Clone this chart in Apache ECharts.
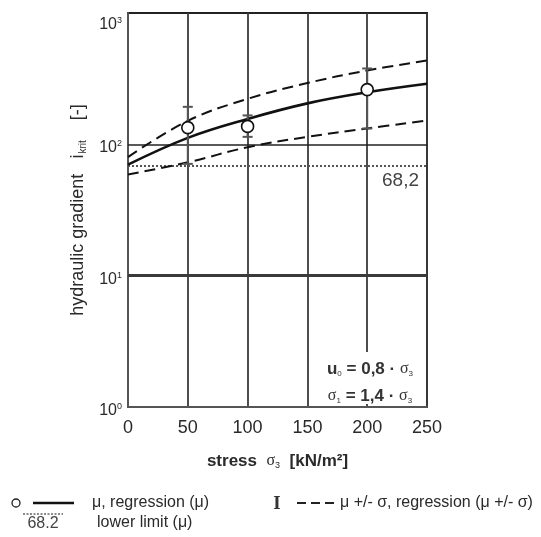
<!DOCTYPE html>
<html>
<head>
<meta charset="utf-8">
<script src="https://cdn.jsdelivr.net/npm/echarts@6/dist/echarts.min.js"></script>
<style>
html,body{margin:0;padding:0;background:#fff;}
#chart{width:541px;height:537px;}
</style>
</head>
<body>
<div id="chart"></div>
<script>
// ---- data ----
const stress = [50, 100, 200];
const meanI = [134, 137, 261];
const upperI = [193, 166, 378];
const lowerI = [71, 114, 132];

const regX = [0, 50, 100, 150, 200, 250];
const regMu = [70, 112, 156, 205, 249, 289];
const regUpper = [80, 151, 222, 293, 365, 435];
const regLower = [59, 73, 95, 114, 132, 152];

const lowerLimit = 68.2;
const lowerLimitLabel = '68,2';
const gridLinesY = [10, 100];
const yTickExp = {1: '0', 10: '1', 100: '2', 1000: '3'};

const FONT = "'Liberation Sans', Arial, Helvetica, sans-serif";
const SERIF = "'Liberation Serif', 'DejaVu Serif', serif";
const TXT = '#2a2a2a';

const chart = echarts.init(document.getElementById('chart'));

const zip = (a, b) => a.map((v, i) => [v, b[i]]);

const option = {
  backgroundColor: '#fff',
  animation: false,
  textStyle: {fontFamily: FONT},
  grid: {left: 128, top: 13, right: 114, bottom: 130, show: true, borderColor: '#222', borderWidth: 2, backgroundColor: 'transparent'},
  xAxis: {
    type: 'value', min: 0, max: 250, interval: 50,
    axisLine: {show: true, lineStyle: {color: '#555', width: 2}},
    axisTick: {show: false},
    splitLine: {show: true, lineStyle: {color: '#3a3a3a', width: 1.8}},
    axisLabel: {fontFamily: FONT, fontSize: 18, color: TXT, margin: 12},
    name: '{b|stress  }{g|σ}{sub|3}{b|  [kN/m²]}',
    nameLocation: 'middle', nameGap: 45,
    nameTextStyle: {
      rich: {
        b: {fontFamily: FONT, fontSize: 17, fontWeight: 'bold', color: TXT},
        g: {fontFamily: SERIF, fontSize: 16, color: TXT},
        sub: {fontFamily: FONT, fontSize: 9, color: TXT, padding: [9, 0, 0, 0]}
      }
    }
  },
  yAxis: {
    type: 'log', logBase: 10, min: 1, max: 1000,
    axisLine: {show: true, lineStyle: {color: '#555', width: 2}},
    axisTick: {show: false},
    splitLine: {show: false},
    axisLabel: {
      margin: 6,
      formatter: function (v) {
        const e = yTickExp[Math.round(v)];
        if (Math.round(v) === 1000) return '{mt|10}{st|' + e + '}';
        return '{m|10}{s|' + e + '}';
      },
      rich: {
        m: {fontFamily: FONT, fontSize: 16, color: TXT, padding: [7, 0, 0, 0]},
        s: {fontFamily: FONT, fontSize: 9, color: TXT, padding: [7, 0, 8, 0]},
        mt: {fontFamily: FONT, fontSize: 16, color: TXT, padding: [24, 0, 0, 0]},
        st: {fontFamily: FONT, fontSize: 9, color: TXT, padding: [24, 0, 8, 0]}
      }
    },
    name: '{n|hydraulic gradient   i}{sub|krit}{n|    [-]}',
    nameLocation: 'middle', nameGap: 40,
    nameTextStyle: {
      rich: {
        n: {fontFamily: FONT, fontSize: 18, color: TXT},
        sub: {fontFamily: FONT, fontSize: 10, color: TXT, padding: [10, 0, 0, 1]}
      }
    }
  },
  series: [
    {
      type: 'line', name: 'grid-h', data: [], silent: true,
      markLine: {
        silent: true, symbol: 'none', label: {show: false},
        data: [
          {yAxis: gridLinesY[0], lineStyle: {color: '#3a3a3a', width: 3, type: 'solid'}},
          {yAxis: gridLinesY[1], lineStyle: {color: '#222', width: 1.5, type: 'solid'}}
        ]
      }
    },
    {
      type: 'line', name: 'lower limit', data: [], silent: true,
      markLine: {
        silent: true, symbol: 'none',
        lineStyle: {color: '#555', width: 2, type: [2, 2]},
        label: {show: true, position: 'insideEndBottom', formatter: lowerLimitLabel, fontFamily: FONT, fontSize: 19, color: '#444', distance: [8, 5]},
        data: [{yAxis: lowerLimit}]
      }
    },
    {
      type: 'line', name: 'μ+σ', data: zip(regX, regUpper), smooth: 0.4, showSymbol: false,
      lineStyle: {color: '#111', width: 2, type: [11, 6]}, z: 5
    },
    {
      type: 'line', name: 'μ-σ', data: zip(regX, regLower), smooth: 0.4, showSymbol: false,
      lineStyle: {color: '#111', width: 2, type: [11, 6]}, z: 5
    },
    {
      type: 'line', name: 'μ regression', data: zip(regX, regMu), smooth: 0.4, showSymbol: false,
      lineStyle: {color: '#111', width: 2.6}, z: 6
    },
    {
      type: 'custom', name: 'error bars', z: 7,
      data: stress.map((s, i) => [s, lowerI[i], upperI[i]]),
      renderItem: function (params, api) {
        const lo = api.coord([api.value(0), api.value(1)]);
        const hi = api.coord([api.value(0), api.value(2)]);
        const st = {stroke: '#555', lineWidth: 2};
        const w = 5;
        return {
          type: 'group',
          children: [
            {type: 'line', shape: {x1: lo[0], y1: lo[1], x2: hi[0], y2: hi[1]}, style: st},
            {type: 'line', shape: {x1: hi[0] - w, y1: hi[1], x2: hi[0] + w, y2: hi[1]}, style: st},
            {type: 'line', shape: {x1: lo[0] - w, y1: lo[1], x2: lo[0] + w, y2: lo[1]}, style: st}
          ]
        };
      }
    },
    {
      type: 'scatter', name: 'μ', data: zip(stress, meanI), z: 8,
      symbol: 'circle', symbolSize: 12,
      itemStyle: {color: '#fff', borderColor: '#111', borderWidth: 1.6, opacity: 1}
    }
  ],
  graphic: [
    // annotation box (white background behind text)
    {type: 'rect', shape: {x: 322, y: 352, width: 96, height: 52}, style: {fill: '#fff'}, z: 50},
    {
      type: 'text', x: 370, y: 369, z: 51,
      style: {
        text: '{a|u}{sb|0}{a| = 0,8 · }{g|σ}{sb|3}',
        align: 'center', verticalAlign: 'middle',
        rich: {
          a: {fontFamily: FONT, fontSize: 17, fontWeight: 'bold', fill: '#333'},
          g: {fontFamily: SERIF, fontSize: 16, fill: '#333'},
          sb: {fontFamily: FONT, fontSize: 8, fill: '#333', padding: [9, 0, 0, 0]}
        }
      }
    },
    {
      type: 'text', x: 370, y: 396, z: 51,
      style: {
        text: '{g|σ}{sb|1}{a| = 1,4 · }{g|σ}{sb|3}',
        align: 'center', verticalAlign: 'middle',
        rich: {
          a: {fontFamily: FONT, fontSize: 17, fontWeight: 'bold', fill: '#333'},
          g: {fontFamily: SERIF, fontSize: 16, fill: '#333'},
          sb: {fontFamily: FONT, fontSize: 8, fill: '#333', padding: [9, 0, 0, 0]}
        }
      }
    },
    // legend row 1
    {type: 'circle', shape: {cx: 16, cy: 503, r: 4}, style: {fill: '#fff', stroke: '#222', lineWidth: 1.3}},
    {type: 'line', shape: {x1: 33, y1: 503, x2: 74, y2: 503}, style: {stroke: '#111', lineWidth: 2.6}},
    {type: 'text', x: 92, y: 503, style: {text: 'μ, regression (μ)', fontFamily: FONT, fontSize: 16, fill: TXT, verticalAlign: 'middle'}},
    {type: 'text', x: 277, y: 504, style: {text: 'I', fontFamily: SERIF, fontSize: 19, fontWeight: 'bold', fill: '#333', align: 'center', verticalAlign: 'middle'}},
    {type: 'line', shape: {x1: 297, y1: 503, x2: 336, y2: 503}, style: {stroke: '#222', lineWidth: 1.8, lineDash: [9, 5]}},
    {type: 'text', x: 340, y: 503, style: {text: 'μ +/- σ, regression (μ +/- σ)', fontFamily: FONT, fontSize: 16, fill: TXT, verticalAlign: 'middle'}},
    // legend row 2
    {type: 'line', shape: {x1: 23, y1: 514, x2: 63, y2: 514}, style: {stroke: '#666', lineWidth: 1.5, lineDash: [2, 1.5]}},
    {type: 'text', x: 43, y: 524, style: {text: '68.2', fontFamily: FONT, fontSize: 16, fill: '#444', align: 'center', verticalAlign: 'middle'}},
    {type: 'text', x: 97, y: 523, style: {text: 'lower limit (μ)', fontFamily: FONT, fontSize: 16, fill: TXT, verticalAlign: 'middle'}}
  ]
};

chart.setOption(option);
</script>
</body>
</html>
